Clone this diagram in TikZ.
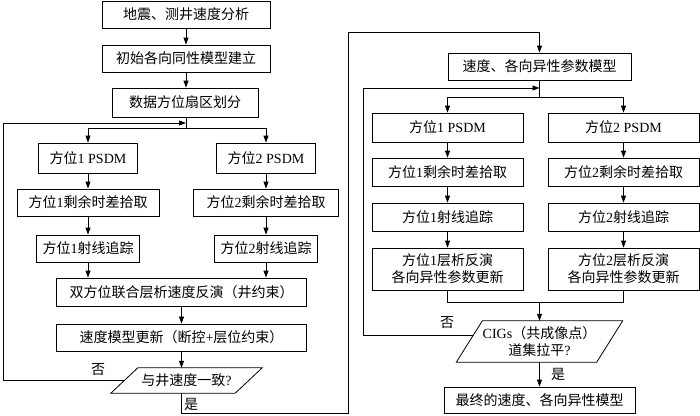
\documentclass[tikz,border=0pt]{standalone}
\usepackage{fontspec}
\setmainfont{Liberation Serif}
\newfontfamily\cjk{Noto Sans CJK SC}
\usetikzlibrary{arrows.meta,calc}
\newcommand\en[1]{{\rmfamily #1}}
\begin{document}
\begin{tikzpicture}[x=1pt,y=-1pt,
  box/.style={draw, line width=0.8pt, inner sep=0pt, align=center, font=\cjk\fontsize{14}{17}\selectfont},
  para/.style={inner sep=0pt, align=center, font=\cjk\fontsize{14}{17}\selectfont},
  lbl/.style={inner sep=0pt, font=\cjk\fontsize{14}{17}\selectfont},
  conn/.style={line width=0.8pt},
  arr/.style={conn, -{Triangle[length=7pt,width=5pt]}}]
\useasboundingbox (0,0) rectangle (700,415);

% ---------- left part ----------
\node[box, minimum width=168pt, minimum height=27pt] (l1) at (186,14.5) {地震、测井速度分析};
\node[box, minimum width=168pt, minimum height=27pt] (l2) at (186,58.5) {初始各向同性模型建立};
\node[box, minimum width=146pt, minimum height=29pt] (l3) at (185,102.5) {数据方位扇区划分};

\node[box, minimum width=99pt, minimum height=30pt] (a1) at (88,158) {方位\en{1 PSDM}};
\node[box, minimum width=99pt, minimum height=30pt] (a2) at (266,158) {方位\en{2 PSDM}};
\node[box, minimum width=142pt, minimum height=27pt] (b1) at (88,202.5) {方位\en{1}剩余时差拾取};
\node[box, minimum width=145pt, minimum height=27pt] (b2) at (266,202.5) {方位\en{2}剩余时差拾取};
\node[box, minimum width=103pt, minimum height=27pt] (c1) at (88,248.5) {方位\en{1}射线追踪};
\node[box, minimum width=103pt, minimum height=27pt] (c2) at (266,248.5) {方位\en{2}射线追踪};
\node[box, minimum width=250pt, minimum height=28pt] (d) at (181.5,292) {双方位联合层析速度反演（井约束）};
\node[box, minimum width=250pt, minimum height=27pt] (e) at (181.5,337.5) {速度模型更新（断控\en{+}层位约束）};
\node[para, minimum width=124pt, minimum height=25pt] (p1) at (186.5,380.5) {与井速度一致\en{?}};
\draw[conn] ($(p1.south west)+(-13.5,0)$) -- ($(p1.north west)+(13.5,0)$)
  -- ($(p1.north east)+(13.5,0)$) -- ($(p1.south east)+(-13.5,0)$) -- cycle;

\coordinate (s1) at (186,128);
\coordinate (fb1) at (186,123);
\coordinate (lx) at (3,0);
\coordinate (bc) at (348,413);
\coordinate (tc) at (348,32);

\draw[arr] (l1) -- (l2);
\draw[arr] (l2.south) -- (l2.south |- l3.north);
\draw[conn] (l3.south -| s1) -- (s1);
\draw[conn] (a1.north |- s1) -- (a2.north |- s1);
\draw[arr] (a1.north |- s1) -- (a1);
\draw[arr] (a2.north |- s1) -- (a2);
\draw[arr] (a1) -- (b1);
\draw[arr] (a2) -- (b2);
\draw[arr] (b1) -- (c1);
\draw[arr] (b2) -- (c2);
\draw[arr] (c1.south) -- (c1.south |- d.north);
\draw[arr] (c2.south) -- (c2.south |- d.north);
\draw[arr] (d) -- (e);
\draw[arr] (e.south) -- (e.south |- p1.north);
\draw[arr] (p1.west) -- (p1.west -| lx) |- (fb1);
\node[lbl] (no1) at (98,370) {否};

% ---------- right part ----------
\node[box, minimum width=183pt, minimum height=27pt] (r0) at (539.5,66.5) {速度、各向异性参数模型};
\node[box, minimum width=151pt, minimum height=29pt] (ra1) at (447.5,127.5) {方位\en{1 PSDM}};
\node[box, minimum width=151pt, minimum height=29pt] (ra2) at (623.5,127.5) {方位\en{2 PSDM}};
\node[box, minimum width=151pt, minimum height=28pt] (rb1) at (447.5,172) {方位\en{1}剩余时差拾取};
\node[box, minimum width=151pt, minimum height=28pt] (rb2) at (623.5,172) {方位\en{2}剩余时差拾取};
\node[box, minimum width=151pt, minimum height=28pt] (rc1) at (447.5,217) {方位\en{1}射线追踪};
\node[box, minimum width=151pt, minimum height=28pt] (rc2) at (623.5,217) {方位\en{2}射线追踪};
\node[box, minimum width=151pt, minimum height=42pt] (rd1) at (447.5,269) {方位\en{1}层析反演\\各向异性参数更新};
\node[box, minimum width=151pt, minimum height=42pt] (rd2) at (623.5,269) {方位\en{2}层析反演\\各向异性参数更新};
\node[para, minimum width=140pt, minimum height=41pt] (p2) at (539.5,341.5) {\en{CIGs}（共成像点）\\道集拉平\en{?}};
\draw[conn] ($(p2.south west)+(-13,0)$) -- ($(p2.north west)+(13,0)$)
  -- ($(p2.north east)+(13,0)$) -- ($(p2.south east)+(-13,0)$) -- cycle;
\node[box, minimum width=191pt, minimum height=26pt] (fin) at (539.5,400) {最终的速度、各向异性模型};

\coordinate (fb2) at (539.5,88);
\coordinate (s2) at (539.5,97);
\coordinate (m2) at (539.5,302);
\coordinate (rx) at (363,0);
\coordinate (q2) at ($(p2.west)+(4.1,-6.5)$);

\draw[arr] (p1.south -| e) |- (bc) -- (tc) -| (r0.north);
\node[lbl] (yes1) at (191,404) {是};

\draw[conn] (r0.south) -- (s2);
\draw[conn] (ra1.north |- s2) -- (ra2.north |- s2);
\draw[arr] (ra1.north |- s2) -- (ra1);
\draw[arr] (ra2.north |- s2) -- (ra2);
\draw[arr] (ra1) -- (rb1);
\draw[arr] (ra2) -- (rb2);
\draw[arr] (rb1) -- (rc1);
\draw[arr] (rb2) -- (rc2);
\draw[arr] (rc1) -- (rd1);
\draw[arr] (rc2) -- (rd2);
\draw[conn] (rd1.south) -- (rd1.south |- m2) -- (rd2.south |- m2) -- (rd2.south);
\draw[arr] (m2) -- (m2 |- p2.north);
\draw[arr] (q2) -- (q2 -| rx) |- (fb2);
\node[lbl] (no2) at (447,323) {否};
\draw[arr] (p2) -- (fin);
\node[lbl] (yes2) at (558,374) {是};
\end{tikzpicture}
\end{document}
